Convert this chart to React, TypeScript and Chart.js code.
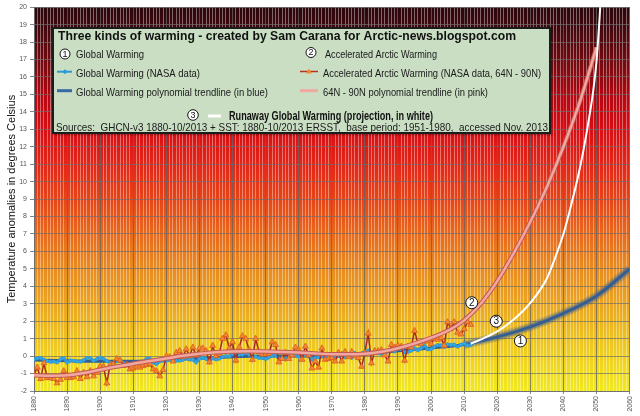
import { useEffect, useRef } from "react";
import { Chart, registerables } from "chart.js";

Chart.register(...registerables);

const FONT = '"Liberation Sans", Arial, sans-serif';
const NARROW = '"Liberation Sans Narrow", "Liberation Sans", Arial, sans-serif';

// ---------- data ----------
const dataStartYear = 1880;

// Global warming, NASA data (annual anomalies, 1880-2012)
const globalValues = [
  -0.2, -0.12, -0.1, -0.21, -0.28, -0.33, -0.31, -0.36, -0.18, -0.11,
  -0.37, -0.24, -0.27, -0.31, -0.32, -0.23, -0.11, -0.11, -0.27, -0.17,
  -0.08, -0.15, -0.28, -0.37, -0.47, -0.26, -0.22, -0.39, -0.43, -0.48,
  -0.43, -0.44, -0.36, -0.34, -0.15, -0.14, -0.36, -0.46, -0.3, -0.27,
  -0.27, -0.19, -0.28, -0.26, -0.27, -0.22, -0.1, -0.21, -0.2, -0.36,
  -0.16, -0.09, -0.16, -0.29, -0.12, -0.2, -0.15, -0.03, 0.0, -0.02,
  0.13, 0.19, 0.07, 0.09, 0.2, 0.09, -0.07, -0.03, -0.11, -0.11,
  -0.17, -0.07, 0.01, 0.08, -0.13, -0.14, -0.19, 0.05, 0.06, 0.03,
  -0.03, 0.06, 0.03, 0.05, -0.2, -0.11, -0.06, -0.02, -0.08, 0.05,
  0.03, -0.08, 0.01, 0.16, -0.07, -0.01, -0.1, 0.18, 0.07, 0.16,
  0.26, 0.32, 0.14, 0.31, 0.16, 0.12, 0.18, 0.32, 0.39, 0.27,
  0.45, 0.4, 0.22, 0.23, 0.31, 0.45, 0.33, 0.46, 0.61, 0.38,
  0.39, 0.54, 0.63, 0.62, 0.53, 0.68, 0.64, 0.66, 0.54, 0.65,
  0.72, 0.61, 0.64,
];

// Accelerated Arctic warming, NASA data 64N-90N (annual anomalies, 1880-2012)
const arcticValues = [
  -1.05, -0.65, -1.3, -0.4, -1.25, -1.25, -1.3, -1.55, -1.35, -0.85,
  -1.25, -1.25, -1.2, -0.85, -1.3, -0.95, -1.2, -0.85, -1.15, -0.95,
  -0.6, -0.6, -1.55, -0.5, -0.45, -0.15, -0.25, -0.55, -0.5, -0.75,
  -0.7, -0.6, -0.65, -0.55, -0.5, -0.45, -0.75, -0.85, -1.15, -0.8,
  0.0, -0.05, -0.3, 0.2, 0.3, -0.05, 0.4, 0.0, 0.5, 0.05,
  0.45, 0.45, 0.3, -0.35, 0.6, 0.0, 0.15, 1.0, 1.2, 0.45,
  0.8, -0.25, 0.5, 1.15, 1.0, 0.35, -0.2, 1.0, 0.25, 0.1,
  0.1, 0.15, 0.8, 0.65, -0.35, -0.15, 0.2, -0.15, 0.05, 0.5,
  0.35, -0.2, 0.55, 0.05, -0.7, -0.3, -0.65, 0.45, -0.2, -0.15,
  -0.1, -0.3, 0.2, -0.3, 0.25, -0.05, 0.25, 0.0, -0.1, -0.6,
  0.2, 1.3, -0.4, 0.3, 0.3, 0.35, 0.05, -0.3, 0.65, 0.5,
  0.6, 0.55, -0.25, 0.55, 0.5, 1.45, 0.75, 0.7, 0.85, 0.85,
  0.7, 1.0, 0.95, 1.05, 0.6, 1.95, 1.6, 1.95, 1.35, 1.25,
  1.55, 1.95, 1.8,
];

// Global warming polynomial trendline (blue)
const globalTrendYears = [1880, 1890, 1900, 1910, 1920, 1930, 1940, 1950, 1960, 1970, 1980, 1990, 2000, 2010, 2020, 2030, 2040, 2050, 2060];
const globalTrendValues = [-0.22, -0.26, -0.3, -0.3, -0.23, -0.13, -0.04, 0.0, 0.0, 0.03, 0.13, 0.3, 0.47, 0.66, 1.1, 1.68, 2.45, 3.45, 5.0];

// 64N-90N polynomial trendline (pink)
const arcticTrendYears = [
  1880, 1885, 1890, 1895, 1900, 1905, 1910, 1915, 1920, 1925, 1930, 1935, 1940, 1945, 1950, 1955, 1960, 1965,
  1970, 1975, 1980, 1985, 1990, 1995, 2000, 2005, 2010, 2015, 2020, 2025, 2030, 2035, 2040, 2045, 2050,
];
const arcticTrendValues = [
  -1.1, -1.12, -1.1, -0.97, -0.78, -0.6, -0.44, -0.28, -0.14, 0.02, 0.14, 0.22, 0.27, 0.28, 0.27, 0.24, 0.2, 0.15,
  0.11, 0.1, 0.13, 0.25, 0.45, 0.72, 1.05, 1.45, 2.05, 3.0, 4.3, 5.9, 7.7, 9.7, 12.0, 14.6, 17.7,
];

// Runaway global warming projection (white)
const runawayYears = [2012, 2015, 2020, 2025, 2030, 2035, 2038, 2040, 2042, 2045, 2047, 2049, 2050, 2051, 2052];
const runawayValues = [0.72, 0.95, 1.42, 2.1, 3.05, 4.45, 5.9, 7.0, 8.4, 10.8, 12.8, 15.2, 16.9, 19.6, 23.0];

// circled numbers on the curves
const markerLabels = ["1", "2", "3"];
const markerYears = [2027.0, 2012.3, 2019.7];
const markerValues = [0.87, 3.06, 2.0];

// axis
const xMin = 1880;
const xMax = 2060;
const yMin = -2;
const yMax = 20;
const yTitle = "Temperature anomalies in degrees Celsius";

// legend texts
const legendTitle = "Three kinds of warming - created by Sam Carana for Arctic-news.blogspot.com";
const legendLeft = ["Global Warming", "Global Warming (NASA data)", "Global Warming polynomial trendline (in blue)"];
const legendRight = ["Accelerated Arctic Warming", "Accelerated Arctic Warming (NASA data, 64N - 90N)", "64N - 90N polynomial trendline (in pink)"];
const legendRunaway = "Runaway Global Warming (projection, in white)";
const legendSources =
  "Sources:  GHCN-v3 1880-10/2013 + SST: 1880-10/2013 ERSST,  base period: 1951-1980,  accessed Nov. 2013";

// ---------- helpers ----------
const pts = (xs: number[], ys: number[]) => ys.map((y, i) => ({ x: xs[i], y }));
const yearly = (vals: number[]) => vals.map((y, i) => ({ x: dataStartYear + i, y }));

function fitText(ctx: CanvasRenderingContext2D, text: string, x: number, y: number, w: number) {
  const m = ctx.measureText(text).width || 1;
  ctx.save();
  ctx.translate(x, y);
  ctx.scale(w / m, 1);
  ctx.fillText(text, 0, 0);
  ctx.restore();
}

function circled(ctx: CanvasRenderingContext2D, cx: number, cy: number, r: number, label: string, size: number) {
  ctx.save();
  ctx.beginPath();
  ctx.arc(cx, cy, r, 0, Math.PI * 2);
  ctx.fillStyle = "#ffffff";
  ctx.fill();
  ctx.lineWidth = 1;
  ctx.strokeStyle = "#111111";
  ctx.stroke();
  ctx.fillStyle = "#111111";
  ctx.font = `${size}px ${FONT}`;
  ctx.textAlign = "center";
  ctx.textBaseline = "middle";
  ctx.fillText(label, cx, cy + 0.5);
  ctx.restore();
}

function seg(ctx: CanvasRenderingContext2D, x1: number, x2: number, y: number, color: string, w: number) {
  ctx.save();
  ctx.beginPath();
  ctx.moveTo(x1, y);
  ctx.lineTo(x2, y);
  ctx.strokeStyle = color;
  ctx.lineWidth = w;
  ctx.stroke();
  ctx.restore();
}

const backgroundPlugin = {
  id: "bgGradient",
  beforeDraw(chart: any) {
    const { ctx, chartArea } = chart;
    if (!chartArea) return;
    const { left, top, right, bottom } = chartArea;
    const g = ctx.createLinearGradient(0, top, 0, bottom);
    const stop = (v: number, c: string) => g.addColorStop((yMax - v) / (yMax - yMin), c);
    stop(20, "#2a070c");
    stop(19, "#3c080e");
    stop(16.6, "#7a0a10");
    stop(14.7, "#b80812");
    stop(13.2, "#d40c14");
    stop(10.8, "#e42818");
    stop(8.9, "#e64618");
    stop(7.05, "#e8681c");
    stop(5.1, "#e88a20");
    stop(3.2, "#eaa220");
    stop(1.3, "#ecbe20");
    stop(-0.6, "#f0d820");
    stop(-2, "#f0e820");
    ctx.save();
    ctx.fillStyle = g;
    ctx.fillRect(left, top, right - left, bottom - top);
    ctx.restore();
  },
};

const overlayPlugin = {
  id: "overlay",
  afterDraw(chart: any) {
    const ctx: CanvasRenderingContext2D = chart.ctx;
    const xs = chart.scales.x;
    const ys = chart.scales.y;

    // circled numbers at the curves
    markerLabels.forEach((lab, i) => {
      circled(ctx, xs.getPixelForValue(markerYears[i]), ys.getPixelForValue(markerValues[i]), 6, lab, 10);
    });

    // legend box
    ctx.save();
    ctx.shadowColor = "rgba(0,0,0,0.35)";
    ctx.shadowOffsetX = 1;
    ctx.shadowOffsetY = 1;
    ctx.shadowBlur = 2;
    ctx.fillStyle = "#c9dec3";
    ctx.fillRect(52, 27, 499, 107);
    ctx.restore();
    ctx.save();
    ctx.strokeStyle = "#1c1c1c";
    ctx.lineWidth = 2;
    ctx.strokeRect(53, 28, 497, 105);

    ctx.fillStyle = "#111111";
    ctx.textBaseline = "alphabetic";
    ctx.textAlign = "left";
    ctx.font = `bold 12.8px ${FONT}`;
    fitText(ctx, legendTitle, 58, 40, 458);

    ctx.font = `11.5px ${FONT}`;
    ctx.fillStyle = "#1a1a1a";
    fitText(ctx, legendLeft[0], 76, 58.3, 68);
    fitText(ctx, legendLeft[1], 76, 76.7, 124);
    fitText(ctx, legendLeft[2], 76, 95.7, 192);
    fitText(ctx, legendRight[0], 325, 57.8, 112);
    fitText(ctx, legendRight[1], 323, 76.7, 218);
    fitText(ctx, legendRight[2], 323, 95.7, 165);

    ctx.font = `11px ${FONT}`;
    fitText(ctx, legendSources, 56, 131, 492);

    ctx.font = `bold 12px ${NARROW}`;
    ctx.fillStyle = "#111111";
    fitText(ctx, legendRunaway, 229, 119.5, 204);

    // legend symbols
    circled(ctx, 65, 54, 5, "1", 9);
    circled(ctx, 311, 52.5, 5, "2", 9);
    circled(ctx, 193, 115, 5.3, "3", 9);

    seg(ctx, 57, 72, 71.7, "#2a9ad8", 2);
    ctx.beginPath();
    ctx.moveTo(65, 69.2);
    ctx.lineTo(67.5, 71.7);
    ctx.lineTo(65, 74.2);
    ctx.lineTo(62.5, 71.7);
    ctx.closePath();
    ctx.fillStyle = "#2a9ad8";
    ctx.fill();

    seg(ctx, 57, 72, 90.7, "#3868a6", 3);

    seg(ctx, 300, 318, 71.5, "#b83022", 1.5);
    ctx.beginPath();
    ctx.moveTo(309, 68.5);
    ctx.lineTo(312, 73.5);
    ctx.lineTo(306, 73.5);
    ctx.closePath();
    ctx.fillStyle = "#f08a30";
    ctx.fill();

    seg(ctx, 300, 318, 90.7, "#f0a8a0", 3);
    seg(ctx, 208, 221, 116, "#ffffff", 3);
    ctx.restore();
  },
};

export default function App() {
  const ref = useRef<HTMLCanvasElement>(null);

  useEffect(() => {
    if (!ref.current) return;
    Chart.defaults.font.family = FONT;
    const chart = new Chart(ref.current, {
      type: "line",
      data: {
        datasets: [
          {
            label: "Runaway Global Warming (projection, in white)",
            data: pts(runawayYears, runawayValues),
            borderColor: "#ffffff",
            borderWidth: 2,
            pointRadius: 0,
            cubicInterpolationMode: "monotone",
          },
          {
            label: "64N - 90N polynomial trendline (in pink)",
            data: pts(arcticTrendYears, arcticTrendValues),
            borderColor: "#f2a8a0",
            borderWidth: 2.5,
            pointRadius: 0,
            cubicInterpolationMode: "monotone",
          },
          {
            label: "pink edge",
            data: pts(arcticTrendYears, arcticTrendValues),
            borderColor: "#c25a52",
            borderWidth: 4.5,
            pointRadius: 0,
            cubicInterpolationMode: "monotone",
          },
          {
            label: "Accelerated Arctic Warming (NASA data, 64N - 90N)",
            data: yearly(arcticValues),
            borderColor: "#a82a1e",
            borderWidth: 1.5,
            pointStyle: "triangle",
            pointRadius: 3.4,
            pointBackgroundColor: "#f28a30",
            pointBorderColor: "#dc5a22",
            pointBorderWidth: 0.8,
          },
          {
            label: "Global Warming (NASA data)",
            data: yearly(globalValues),
            borderColor: "#2a9ad8",
            borderWidth: 3,
            pointStyle: "rectRot",
            pointRadius: 2,
            pointBackgroundColor: "#3aa8e2",
            pointBorderColor: "#2a8cc8",
            pointBorderWidth: 0.5,
          },
          {
            label: "Global Warming polynomial trendline (in blue)",
            data: pts(globalTrendYears, globalTrendValues),
            borderColor: "#355f94",
            borderWidth: 3,
            pointRadius: 0,
            cubicInterpolationMode: "monotone",
          },
          {
            label: "blue glow",
            data: pts(globalTrendYears.slice(13), globalTrendValues.slice(13)),
            borderColor: "rgba(70,100,135,0.45)",
            borderWidth: 6,
            pointRadius: 0,
            cubicInterpolationMode: "monotone",
          },
          {
            label: "blue glow outer",
            data: pts(globalTrendYears.slice(13), globalTrendValues.slice(13)),
            borderColor: "rgba(80,105,130,0.25)",
            borderWidth: 9,
            pointRadius: 0,
            cubicInterpolationMode: "monotone",
          },
        ],
      },
      options: {
        responsive: false,
        animation: false,
        layout: { padding: { top: 7, right: 7, left: 0, bottom: 0 } },
        plugins: {
          legend: { display: false },
          tooltip: { enabled: false },
        },
        scales: {
          x: {
            type: "linear",
            min: xMin,
            max: xMax,
            afterFit: (s: any) => {
              s.height = 25;
            },
            border: { display: true, color: "rgba(110,110,110,0.9)" },
            grid: {
              color: (c: any) =>
                c.tick && Math.round(c.tick.value) % 10 === 0 ? "rgba(100,100,100,0.75)" : "rgba(255,255,255,0.38)",
              tickColor: (c: any) =>
                c.tick && Math.round(c.tick.value) % 10 === 0 ? "rgba(120,120,120,0.9)" : "rgba(0,0,0,0)",
              tickLength: 3,
              lineWidth: 1,
            },
            ticks: {
              stepSize: 1,
              autoSkip: false,
              minRotation: 90,
              maxRotation: 90,
              padding: 2,
              color: "#555555",
              font: { size: 7, family: FONT },
              callback: (v: any) => (Math.round(v) % 10 === 0 ? String(Math.round(v)) : ""),
            },
          },
          y: {
            min: yMin,
            max: yMax,
            afterFit: (s: any) => {
              s.width = 34;
            },
            border: { display: true, color: "rgba(110,110,110,0.9)" },
            grid: {
              color: "rgba(110,110,110,0.7)",
              tickColor: "rgba(120,120,120,0.9)",
              tickLength: 4,
            },
            ticks: {
              stepSize: 1,
              padding: 3,
              color: "#555555",
              font: { size: 7, family: FONT },
            },
            title: {
              display: true,
              text: yTitle,
              color: "#111111",
              font: { size: 11, family: FONT },
              padding: { top: 5, bottom: 0 },
            },
          },
        },
      },
      plugins: [backgroundPlugin, overlayPlugin],
    } as any);
    return () => chart.destroy();
  }, []);

  return (
    <div style={{ position: "fixed", left: 0, top: 0, width: 640, height: 416, background: "#ffffff" }}>
      <canvas ref={ref} width={640} height={416} style={{ width: 640, height: 416, display: "block" }} />
    </div>
  );
}
